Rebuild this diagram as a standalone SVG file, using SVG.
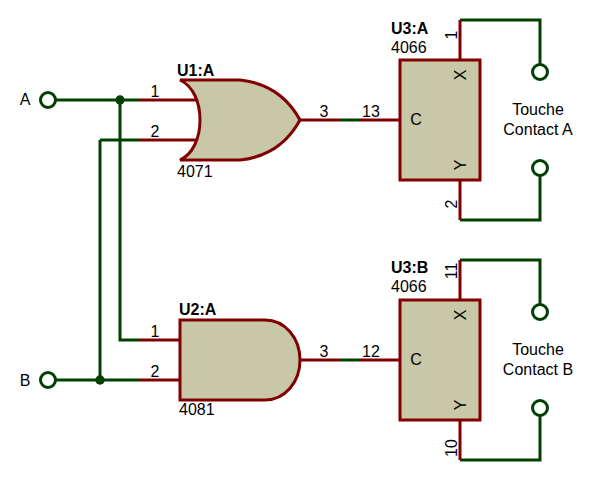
<svg xmlns="http://www.w3.org/2000/svg" width="600" height="480" viewBox="0 0 600 480">
<style>
text{font-family:"Liberation Sans",Arial,sans-serif;font-size:16px;fill:#000}
.ref{font-weight:bold}
.w{fill:none;stroke:#004000;stroke-width:3}
.p{fill:none;stroke:#800000;stroke-width:3}
.b{fill:#c8c8a8;stroke:#800000;stroke-width:3}
.t{fill:#fff;stroke:#004000;stroke-width:3}
.m{text-anchor:middle}
</style>
<rect width="600" height="480" fill="#fff"/>
<g id="connectors">
<path class="w" d="M55 100H140M120 100V340H140M100 140H140M100 140V380M55 380H140M340 120H360M340 360H360"/>
<path class="w" d="M460 20H540V64M460 220H540V176M460 260H540V304M460 460H540V416"/>
<circle cx="120" cy="100" r="4.7" fill="#004000"/>
<circle cx="100" cy="380" r="4.7" fill="#004000"/>
</g>
<g id="U1">
<path class="p" d="M140 100H198M140 140H198M300 120H340"/>
<path class="b" d="M180 80H240C268 83 288 98 300 120C288 142 268 157 240 160H180C193 154 200 138 200 120C200 102 193 86 180 80Z"/>
<text class="ref" x="177" y="76">U1:A</text><text x="177" y="177">4071</text>
<text class="m" x="155" y="97">1</text><text class="m" x="155" y="137">2</text><text class="m" x="324" y="117">3</text><text class="m" x="371" y="117">13</text>
</g>
<g id="U2">
<path class="p" d="M140 340H180M140 380H180M300 360H340"/>
<path class="b" d="M180 320H265C285 320 300 338 300 360C300 382 285 400 265 400H180Z"/>
<text class="ref" x="179" y="315">U2:A</text><text x="179" y="415">4081</text>
<text class="m" x="155" y="337">1</text><text class="m" x="155" y="377">2</text><text class="m" x="324" y="357">3</text><text class="m" x="371" y="357">12</text>
</g>
<g id="U3A">
<path class="p" d="M360 120H400M460 60V20M460 180V220"/>
<rect class="b" x="400" y="60" width="80" height="120"/>
<text class="ref" x="391" y="34">U3:A</text><text x="391" y="53">4066</text>
<text class="m" x="416" y="125">C</text>
<text class="m" transform="translate(466,75) rotate(-90)">X</text>
<text class="m" transform="translate(466,165) rotate(-90)">Y</text>
<text class="m" transform="translate(457,35) rotate(-90)">1</text>
<text class="m" transform="translate(457,204) rotate(-90)">2</text>
</g>
<g id="U3B">
<path class="p" d="M360 360H400M460 300V260M460 420V460"/>
<rect class="b" x="400" y="300" width="80" height="120"/>
<text class="ref" x="391" y="273">U3:B</text><text x="391" y="292">4066</text>
<text class="m" x="416" y="365">C</text>
<text class="m" transform="translate(466,315) rotate(-90)">X</text>
<text class="m" transform="translate(466,405) rotate(-90)">Y</text>
<text class="m" transform="translate(457,271) rotate(-90)">11</text>
<text class="m" transform="translate(457,448) rotate(-90)">10</text>
</g>
<g id="A"><circle class="t" cx="48" cy="100" r="7.5"/><text class="m" x="25" y="105">A</text></g>
<g id="B"><circle class="t" cx="48" cy="380" r="7.5"/><text class="m" x="25" y="386">B</text></g>
<g id="TA1"><circle class="t" cx="540" cy="72" r="7.5"/></g>
<g id="TA2"><circle class="t" cx="540" cy="168" r="7.5"/></g>
<g id="TB1"><circle class="t" cx="540" cy="312" r="7.5"/></g>
<g id="TB2"><circle class="t" cx="540" cy="408" r="7.5"/></g>
<g id="LA"><text class="m" x="538" y="115">Touche</text><text class="m" x="538" y="135">Contact A</text></g>
<g id="LB"><text class="m" x="538" y="355">Touche</text><text class="m" x="538" y="375">Contact B</text></g>
</svg>
